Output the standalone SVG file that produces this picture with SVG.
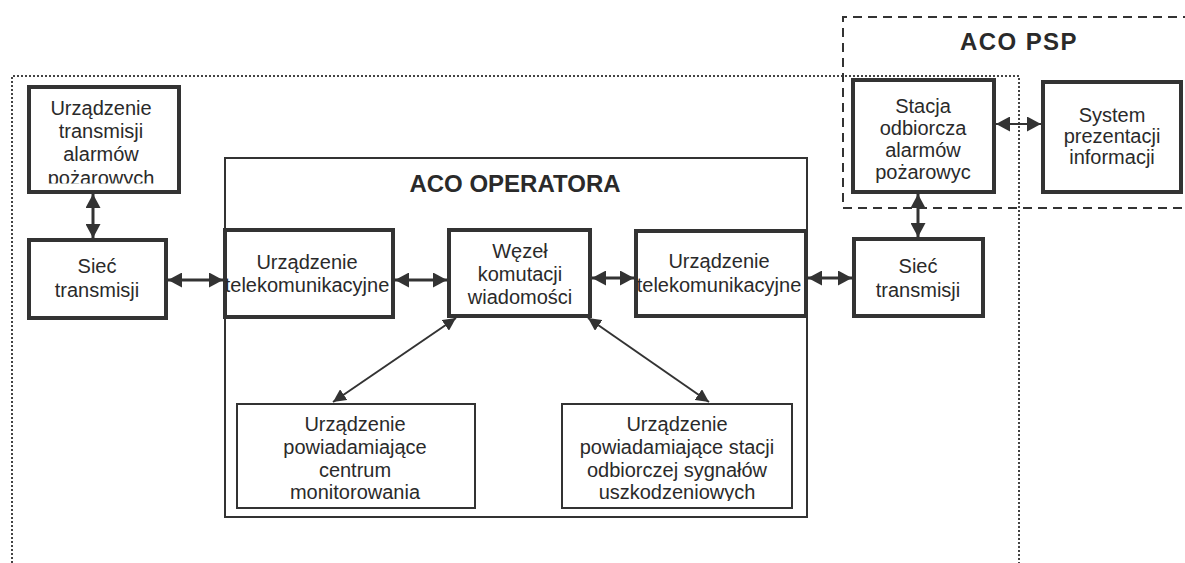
<svg xmlns="http://www.w3.org/2000/svg" width="1185" height="563" viewBox="0 0 1185 563">
<style>
.bg{fill:#ffffff}
.thick{fill:#ffffff;stroke:#333333;stroke-width:4}
.thin{fill:#ffffff;stroke:#333333;stroke-width:2}
.frame{fill:none;stroke:#333333;stroke-width:2}
.t{font-family:"Liberation Sans",Arial,sans-serif;font-size:20px;fill:#2a2a2a;text-anchor:middle}
.title{font-family:"Liberation Sans",Arial,sans-serif;font-size:24px;font-weight:bold;fill:#2a2a2a;text-anchor:middle}
.con{fill:none;stroke:#333333;stroke-width:3}
.con2{fill:none;stroke:#333333;stroke-width:2}
</style>
<defs>
<marker id="ah" markerUnits="userSpaceOnUse" markerWidth="15" markerHeight="15" refX="14" refY="7.5" orient="auto-start-reverse">
<path d="M0,0 L14,7.5 L0,15 z" fill="#333333"/>
</marker>
<marker id="ahs" markerUnits="userSpaceOnUse" markerWidth="13" markerHeight="13" refX="13" refY="6.5" orient="auto-start-reverse">
<path d="M0,0 L13,6.5 L0,13 z" fill="#333333"/>
</marker>
<clipPath id="clipA"><rect x="31" y="89" width="146" height="94.5"/></clipPath>
<clipPath id="clipB"><rect x="563" y="405" width="228" height="96"/></clipPath>
</defs>
<rect class="bg" x="0" y="0" width="1185" height="563"/>

<g id="frames">
<path d="M12,563 V76 H1019 V563" fill="none" stroke="#444444" stroke-width="2" stroke-dasharray="2 2"/>
<path d="M1192,17 H843 V208 H1192" fill="none" stroke="#333333" stroke-width="2" stroke-dasharray="9 6"/>
<text class="title" x="1019" y="50" letter-spacing="1.4">ACO PSP</text>
</g>

<g id="aco-operatora">
<rect class="frame" x="225" y="158" width="582" height="359"/>
<text class="title" x="515" y="192">ACO OPERATORA</text>
</g>

<g id="n-urz-transmisji">
<rect class="thick" x="29" y="87" width="150" height="105"/>
<g clip-path="url(#clipA)">
<text class="t" x="101" y="115">Urządzenie</text>
<text class="t" x="101" y="138">transmisji</text>
<text class="t" x="101" y="161">alarmów</text>
<text class="t" x="101" y="185">pożarowych</text>
</g>
</g>

<g id="n-siec-left">
<rect class="thick" x="29" y="240" width="137" height="78"/>
<text class="t" x="97" y="273">Sieć</text>
<text class="t" x="97" y="297">transmisji</text>
</g>

<g id="n-tele-left">
<rect class="thick" x="225" y="230" width="168" height="87"/>
<text class="t" x="307" y="269">Urządzenie</text>
<text class="t" x="307" y="292">telekomunikacyjne</text>
</g>

<g id="n-wezel">
<rect class="thick" x="449" y="230" width="141" height="86"/>
<text class="t" x="520" y="258">Węzeł</text>
<text class="t" x="520" y="281">komutacji</text>
<text class="t" x="520" y="304">wiadomości</text>
</g>

<g id="n-tele-right">
<rect class="thick" x="636" y="231" width="170" height="85"/>
<text class="t" x="719" y="268">Urządzenie</text>
<text class="t" x="719" y="292">telekomunikacyjne</text>
</g>

<g id="n-siec-right">
<rect class="thick" x="854" y="239" width="129" height="77"/>
<text class="t" x="918" y="273">Sieć</text>
<text class="t" x="918" y="297">transmisji</text>
</g>

<g id="n-stacja">
<rect class="thick" x="853" y="80" width="141" height="112"/>
<text class="t" x="923" y="113">Stacja</text>
<text class="t" x="923" y="135">odbiorcza</text>
<text class="t" x="923" y="157">alarmów</text>
<text class="t" x="923" y="179">pożarowyc</text>
</g>

<g id="n-system">
<rect class="thick" x="1043" y="82" width="138" height="110"/>
<text class="t" x="1112" y="122">System</text>
<text class="t" x="1112" y="143">prezentacji</text>
<text class="t" x="1112" y="164">informacji</text>
</g>

<g id="n-pow-centrum">
<rect class="thin" x="237" y="404" width="238" height="104"/>
<text class="t" x="355" y="431">Urządzenie</text>
<text class="t" x="355" y="454">powiadamiające</text>
<text class="t" x="355" y="477">centrum</text>
<text class="t" x="355" y="499">monitorowania</text>
</g>

<g id="n-pow-stacji">
<rect class="thin" x="562" y="404" width="230" height="104"/>
<g clip-path="url(#clipB)">
<text class="t" x="677" y="431">Urządzenie</text>
<text class="t" x="677" y="454">powiadamiające stacji</text>
<text class="t" x="677" y="477">odbiorczej sygnałów</text>
<text class="t" x="677" y="499">uszkodzeniowych</text>
</g>
</g>

<g id="connectors">
<line class="con" x1="93" y1="194" x2="93" y2="238" marker-start="url(#ah)" marker-end="url(#ah)"/>
<line class="con" x1="168" y1="280" x2="223" y2="280" marker-start="url(#ah)" marker-end="url(#ah)"/>
<line class="con" x1="395" y1="280" x2="447" y2="280" marker-start="url(#ah)" marker-end="url(#ah)"/>
<line class="con" x1="592" y1="278" x2="634" y2="278" marker-start="url(#ah)" marker-end="url(#ah)"/>
<line class="con" x1="808" y1="278" x2="852" y2="278" marker-start="url(#ah)" marker-end="url(#ah)"/>
<line class="con" x1="918" y1="194" x2="918" y2="237" marker-start="url(#ah)" marker-end="url(#ah)"/>
<line class="con2" x1="996" y1="124" x2="1041" y2="124" marker-start="url(#ah)" marker-end="url(#ah)"/>
<line class="con2" x1="456" y1="318" x2="333" y2="402" marker-start="url(#ahs)" marker-end="url(#ahs)"/>
<line class="con2" x1="588" y1="318" x2="709" y2="402" marker-start="url(#ahs)" marker-end="url(#ahs)"/>
</g>
</svg>
